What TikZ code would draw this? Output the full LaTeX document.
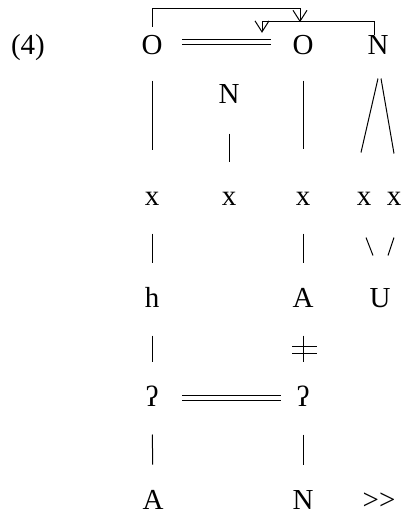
\documentclass[tikz,border=0pt]{standalone}
\usepackage{fontspec}
\setmainfont{Liberation Serif}
\usepackage{tikz}
\usetikzlibrary{positioning}
\usetikzlibrary{arrows.meta,calc}

\begin{document}
\begin{tikzpicture}[x=1pt, y=-1pt, line width=1pt,
    seg/.style={font=\fontsize{29}{33}\selectfont, inner sep=0pt, anchor=base,
        text height=18pt, text depth=0pt},
    tie/.style={shorten <=28pt, shorten >=26pt},
    dbl/.style={double distance=4.7pt, line width=1pt},
    link/.style={-{Straight Barb[length=11pt, width=14pt]}, line width=1pt}]
    \useasboundingbox (0,0) rectangle (403,515);

    % Example number
    \node[seg] (num) at (28,54) {(4)};

    % Top tier
    \node[seg] (o1) at (152,54) {O};
    \node[seg] (o3) at (303,54) {O};
    \node[seg] (n4) at (378,54) {N};
    \node[seg] (n2) at (229,103) {N};

    % Skeletal tier
    \node[seg] (x1) at (152,205) {x};
    \node[seg] (x2) at (229,205) {x};
    \node[seg] (x3) at (303,205) {x};
    \node[seg] (x4a) at (364,205) {x};
    \node[seg] (x4b) at (394,205) {x};

    % Lower tiers
    \node[seg] (h1) at (152,307) {h};
    \node[seg] (a3) at (303,307) {A};
    \node[seg] (u4) at (380,307) {U};
    \node[seg] (q1) at (152,406) {ʔ};
    \node[seg] (q3) at (303,406) {ʔ};
    \node[seg] (a1) at (153,509) {A};
    \node[seg] (n3) at (303,509) {N};
    \node[seg] (mrk) at (379,509) {>\kern0pt>};

    % Association lines
    \draw[tie, shorten <=26pt, shorten >=37pt] (o1) -- (x1);
    \draw[tie, shorten <=30pt, shorten >=25pt] (n2) -- (x2);
    \draw[tie, shorten <=26pt, shorten >=38pt] (o3) -- (x3);
    \draw[tie] (x1) -- (h1);
    \draw[tie] (h1) -- (q1);
    \draw[tie] (q1) -- (a1);
    \draw[tie] (x3) -- (a3);
    \draw[tie] (a3) -- (q3);
    \draw[tie] (q3) -- (n3);
    \draw ($(n4.south)+(0,24)$) -- ($(x4a.north)+(-3,-34)$);
    \draw ($(n4.south)+(3,24)$) -- ($(x4b.north)+(0,-33)$);
    \draw ($(x4a.south)+(2,32)$) -- ($(u4.north)+(-7,-33)$);
    \draw ($(x4b.south)+(0,32)$) -- ($(u4.north)+(8,-33)$);

    % Delinking
    \coordinate (cut) at ($(a3)!0.5!(q3)$);
    \draw ($(cut)+(-11,-1.5)$) -- ++(25,0);
    \draw ($(cut)+(-11,5.5)$) -- ++(25,0);

    % Double lines
    \draw[dbl, shorten <=19.5pt, shorten >=21.5pt] ([yshift=3pt]o1.east) -- ([yshift=3pt]o3.west);
    \draw[dbl, shorten <=23.5pt, shorten >=15.5pt] ([yshift=-1pt]q1.east) -- ([yshift=-1pt]q3.west);

    % Spreading arrows
    \draw[link] ($(o1.north)+(0,-9)$) |- ($(o3.north)+(-3,-27)$) -- ($(o3.north)+(-3,-13.3)$);
    \draw[link] ($(n4.north)+(-4,-1)$) |- ($(o3.north)+(-41,-14)$) -- ($(o3.north)+(-41,-2.7)$);
\end{tikzpicture}
\end{document}
